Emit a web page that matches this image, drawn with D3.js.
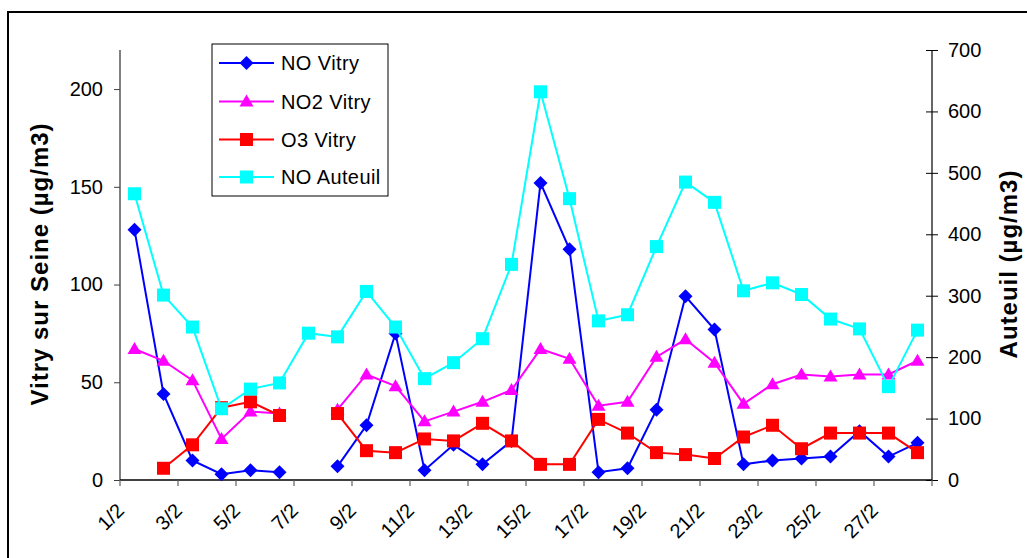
<!DOCTYPE html>
<html><head><meta charset="utf-8">
<script src="https://cdn.jsdelivr.net/npm/d3@7"></script>
<style>
html,body{margin:0;padding:0;background:#fff;}
svg{display:block;font-family:"Liberation Sans",Arial,sans-serif;}
</style></head>
<body><svg id="chart" width="1027" height="558"></svg>
<script>
const days = ["1/2","2/2","3/2","4/2","5/2","6/2","7/2","8/2","9/2","10/2","11/2","12/2","13/2","14/2","15/2","16/2","17/2","18/2","19/2","20/2","21/2","22/2","23/2","24/2","25/2","26/2","27/2","28/2"];
const noVitry  = [128,44,10,3,5,4,null,7,28,75,5,18,8,20,152,118,4,6,36,94,77,8,10,11,12,25,12,19];
const no2Vitry = [67,61,51,21,35,34,null,36,54,48,30,35,40,46,67,62,38,40,63,72,60,39,49,54,53,54,54,61];
const o3Vitry  = [null,6,18,37,40,33,null,34,15,14,21,20,29,20,8,8,31,24,14,13,11,22,28,16,24,24,24,14];
const noAuteuil = [466,301,249,116,148,158,239,233,307,249,165,191,230,351,632,458,259,269,380,485,452,308,321,302,262,246,152,244];
const leftTicks = [0,50,100,150,200];
const rightTicks = [0,100,200,300,400,500,600,700];
const seriesNames = ["NO Vitry","NO2 Vitry","O3 Vitry","NO Auteuil"];
const seriesColors = ["#0000ff","#ff00ff","#ff0000","#00ffff"];
const seriesShapes = ["diamond","triangle","square","square"];

const svg = d3.select("#chart");
const L = 120, R = 932, T = 50, B = 480;

// outer frame
svg.append("rect").attr("x",8).attr("y",12).attr("width",1200).attr("height",800)
  .attr("fill","none").attr("stroke","#000").attr("stroke-width",2);

const x = d3.scaleBand().domain(days).range([L,R]).padding(0);
const yL = d3.scaleLinear().domain([0,220]).range([B,T]);
const yR = d3.scaleLinear().domain([0,700]).range([B,T]);
const cx = d => x(d) + x.bandwidth()/2;

// left axis
const gL = svg.append("g").attr("transform",`translate(${L},0)`)
  .call(d3.axisLeft(yL).tickValues(leftTicks).tickSize(6).tickPadding(11));
gL.select(".domain").attr("stroke","#808080").attr("stroke-width",2).attr("d",`M0,${B}V${T}`);
gL.selectAll(".tick line").attr("stroke","#404040");
gL.selectAll("text").attr("font-size",20).attr("fill","#000").attr("font-family","Liberation Sans, Arial");

// right axis
const gR = svg.append("g").attr("transform",`translate(${R},0)`)
  .call(d3.axisRight(yR).tickValues(rightTicks).tickSize(6).tickPadding(10));
gR.select(".domain").attr("stroke","#000").attr("stroke-width",1.2).attr("d",`M0,${B}V${T}`);
gR.selectAll(".tick line").attr("x1",-6).attr("stroke","#000");
gR.selectAll("text").attr("font-size",20).attr("fill","#000").attr("font-family","Liberation Sans, Arial");

// x axis
const tickCats = days.filter((d,i)=>i%2===0);
const gX = svg.append("g");
gX.append("line").attr("x1",L).attr("x2",R).attr("y1",B).attr("y2",B).attr("stroke","#000").attr("stroke-width",1.5);
gX.selectAll("line.t").data(tickCats.concat(["end"])).join("line").attr("class","t")
  .attr("x1",d=> d==="end"? R : x(d)).attr("x2",d=> d==="end"? R : x(d))
  .attr("y1",B).attr("y2",B+6).attr("stroke","#606060").attr("stroke-width",1.2);
gX.selectAll("text").data(tickCats).join("text")
  .attr("transform",d=>`translate(${cx(d)-14},${B+27}) rotate(-45)`)
  .attr("text-anchor","end").attr("dy","0.35em")
  .attr("font-size",20).text(d=>d);

// axis titles
svg.append("text").attr("transform",`translate(40,264) rotate(-90)`)
  .attr("text-anchor","middle").attr("dy","0.35em").attr("font-weight","bold")
  .attr("font-size",24).attr("letter-spacing","1px").text("Vitry sur Seine (µg/m3)");
svg.append("text").attr("transform",`translate(1009,264) rotate(-90)`)
  .attr("text-anchor","middle").attr("dy","0.35em").attr("font-weight","bold")
  .attr("font-size",24).attr("letter-spacing","1px").text("Auteuil (µg/m3)");

function symbolPath(shape){
  if(shape==="diamond") return "M0,-7L7,0L0,7L-7,0Z";
  if(shape==="triangle") return "M0,-7L7,5L-7,5Z";
  return "M-6.5,-6.5H6.5V6.5H-6.5Z";
}

const allSeries = [
  {vals:noVitry, y:yL}, {vals:no2Vitry, y:yL}, {vals:o3Vitry, y:yL}, {vals:noAuteuil, y:yR}
];
allSeries.forEach((s,k)=>{
  const data = days.map((d,i)=>({d, v:s.vals[i]}));
  const line = d3.line().defined(p=>p.v!==null).x(p=>cx(p.d)).y(p=>s.y(p.v));
  const g = svg.append("g");
  g.append("path").attr("d",line(data)).attr("fill","none")
    .attr("stroke",seriesColors[k]).attr("stroke-width",2);
  g.selectAll("path.m").data(data.filter(p=>p.v!==null)).join("path").attr("class","m")
    .attr("d",symbolPath(seriesShapes[k]))
    .attr("transform",p=>`translate(${cx(p.d)},${s.y(p.v)})`)
    .attr("fill",seriesColors[k]);
});

// legend
const lg = svg.append("g");
lg.append("rect").attr("x",212).attr("y",44).attr("width",176).attr("height",152)
  .attr("fill","#fff").attr("stroke","#000").attr("stroke-width",1);
const legY = [63,101.5,139.5,177];
seriesNames.forEach((n,k)=>{
  lg.append("line").attr("x1",219).attr("x2",274).attr("y1",legY[k]).attr("y2",legY[k])
    .attr("stroke",seriesColors[k]).attr("stroke-width",2);
  lg.append("path").attr("d",symbolPath(seriesShapes[k]))
    .attr("transform",`translate(246.5,${legY[k]})`).attr("fill",seriesColors[k]);
  lg.append("text").attr("x",281).attr("y",legY[k]).attr("dy","0.35em")
    .attr("font-size",20).attr("letter-spacing","0.4px").text(n);
});
</script></body></html>
